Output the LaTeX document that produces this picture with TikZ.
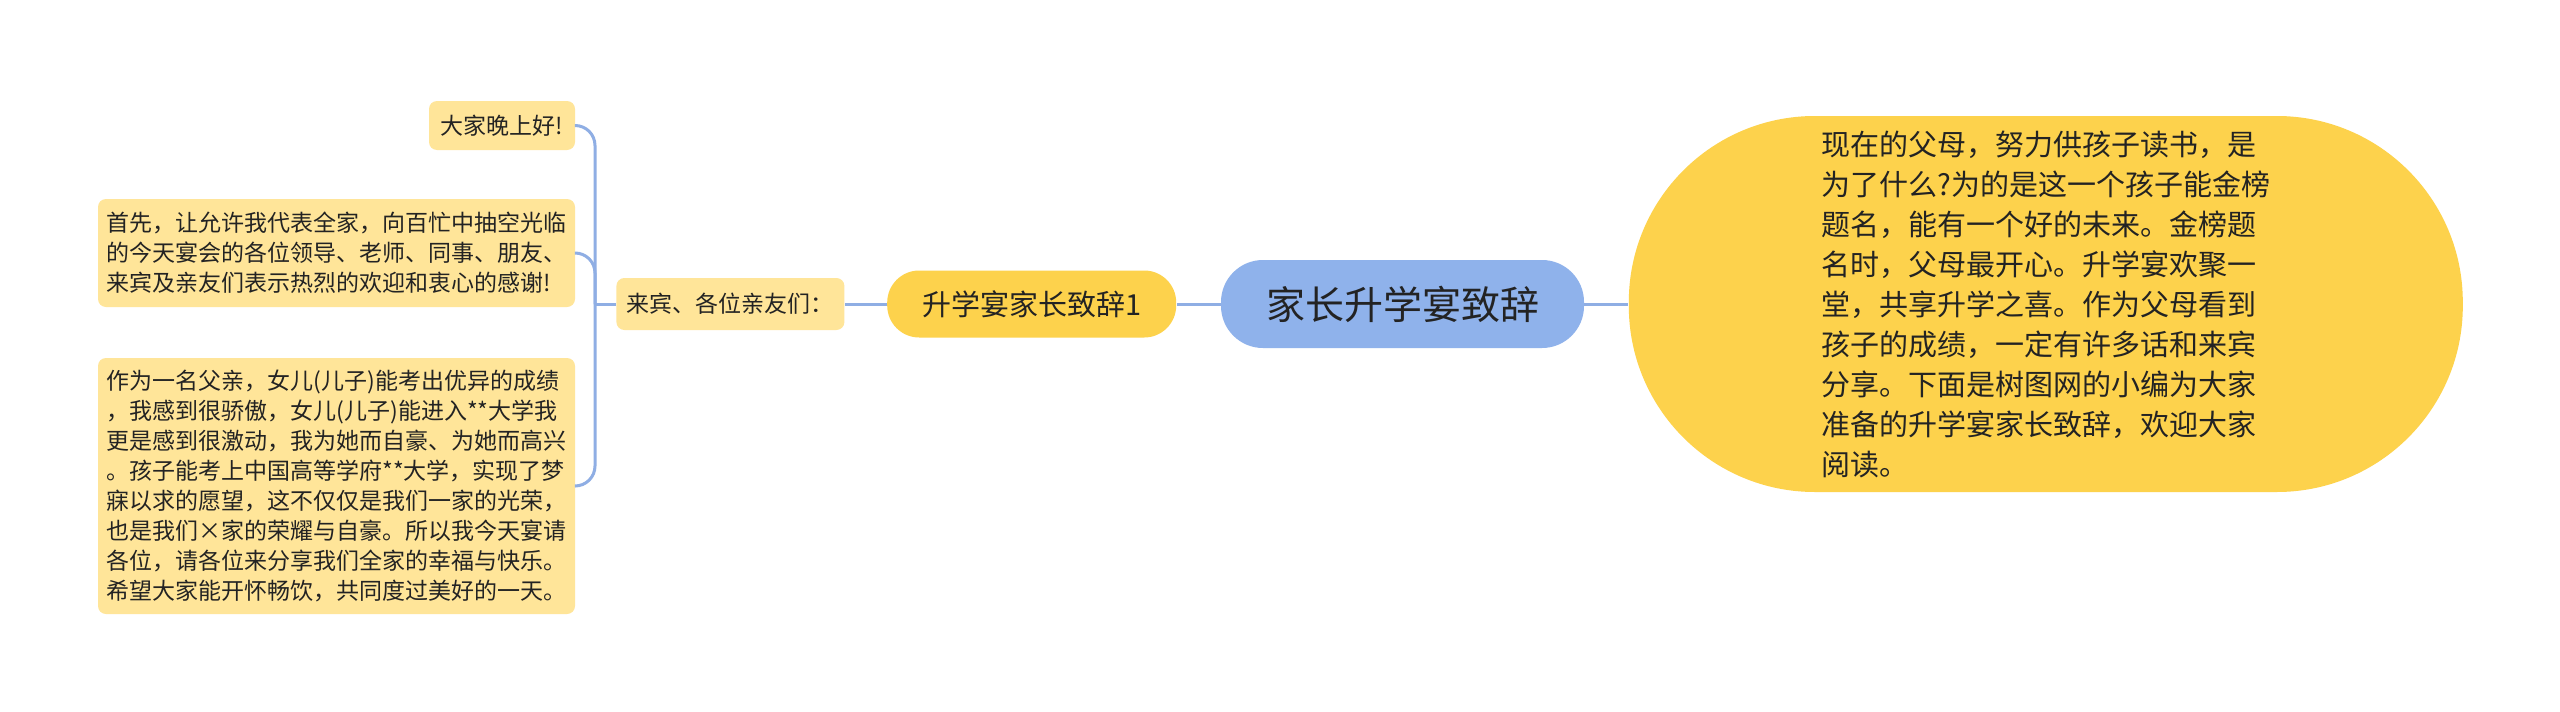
\documentclass[tikz,border=0pt]{standalone}
\usepackage{fontspec}
\usepackage{tikz}
\usetikzlibrary{positioning}
\newfontfamily\cjk{Noto Sans CJK SC}
\definecolor{rootblue}{RGB}{143,178,235}
\definecolor{mainyellow}{RGB}{253,210,76}
\definecolor{leafyellow}{RGB}{255,229,153}
\definecolor{linkblue}{RGB}{143,174,228}
\definecolor{ink}{RGB}{35,35,35}
\tikzset{
  topic/.style={
    fill=rootblue, rounded corners=21pt, inner sep=0pt,
    minimum width=181.5pt, minimum height=44pt, text=ink,
    font=\cjk\fontsize{19.5pt}{24pt}\selectfont
  },
  subtopic/.style={
    fill=mainyellow, rounded corners=16pt, inner sep=0pt, text=ink,
    font=\cjk\fontsize{14.5pt}{20pt}\selectfont
  },
  leaf/.style={
    fill=leafyellow, rounded corners=4pt, inner sep=0pt, align=left,
    text=ink, font=\cjk\fontsize{11.5pt}{15pt}\selectfont
  },
  link/.style={draw=linkblue, line width=1.5pt},
}
\begin{document}
\begin{tikzpicture}[x=0.5pt, y=-0.5pt, node distance=22pt]
  \useasboundingbox[fill=white] (0,0) rectangle (2560,712);

  \node[topic] (root) at (1402.5,304) {家长升学宴致辞};
  \node[subtopic, left=of root, minimum width=144.5pt, minimum height=33.5pt] (speech) {升学宴家长致辞1};
  \node[leaf, left=21pt of speech, minimum width=114pt, minimum height=26pt] (guests) {来宾、各位亲友们：};
  \node[subtopic, right=of root, rounded corners=93pt, align=left,
        minimum width=417pt, minimum height=188pt] (intro) {现在的父母，努力供孩子读书，是\\为了什么?为的是这一个孩子能金榜\\题名，能有一个好的未来。金榜题\\名时，父母最开心。升学宴欢聚一\\堂，共享升学之喜。作为父母看到\\孩子的成绩，一定有许多话和来宾\\分享。下面是树图网的小编为大家\\准备的升学宴家长致辞，欢迎大家\\阅读。};

  \node[leaf, minimum width=73pt, minimum height=24.5pt] (hello) at (502,125.5) {大家晚上好!};
  \node[leaf, minimum width=238.5pt, minimum height=54pt] (welcome) at (336.5,253) {首先，让允许我代表全家，向百忙中抽空光临\\的今天宴会的各位领导、老师、同事、朋友、\\来宾及亲友们表示热烈的欢迎和衷心的感谢!};
  \node[leaf, minimum width=238.5pt, minimum height=128pt] (proud) at (336.5,486) {作为一名父亲，女儿(儿子)能考出优异的成绩\\，我感到很骄傲，女儿(儿子)能进入**大学我\\更是感到很激动，我为她而自豪、为她而高兴\\。孩子能考上中国高等学府**大学，实现了梦\\寐以求的愿望，这不仅仅是我们一家的光荣，\\也是我们×家的荣耀与自豪。所以我今天宴请\\各位，请各位来分享我们全家的幸福与快乐。\\希望大家能开怀畅饮，共同度过美好的一天。};

  \coordinate (fork) at ([xshift=-10.5pt]guests.west);
  \draw[link] (root.east) -- (intro.west);
  \draw[link] (root.west) -- (speech.east);
  \draw[link] (speech.west) -- (guests.east);
  \draw[link] (guests.west) -- (fork);
  \draw[link, rounded corners=10pt] (fork) |- (hello.east);
  \draw[link, rounded corners=10pt] (fork) |- (welcome.east);
  \draw[link, rounded corners=10pt] (fork) |- (proud.east);
\end{tikzpicture}
\end{document}
